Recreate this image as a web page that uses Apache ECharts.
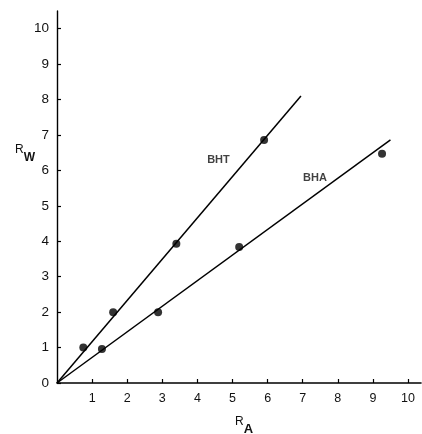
<!DOCTYPE html>
<html><head><meta charset="utf-8">
<script src="https://cdn.jsdelivr.net/npm/echarts@6/dist/echarts.min.js"></script>
<style>html,body{margin:0;padding:0;background:#fff}#c{width:422px;height:434px}</style>
</head><body><div id="c"></div>
<script>
// Data
const xTicks = [1,2,3,4,5,6,7,8,9,10];
const yTicks = [0,1,2,3,4,5,6,7,8,9,10];
const bhtPoints = [[0.75,1.0],[1.6,2.0],[3.4,3.93],[5.9,6.86]];
const bhaPoints = [[1.28,0.96],[2.88,2.0],[5.19,3.84],[9.26,6.47]];
const bhtLine = [[0,0],[6.95,8.1]];
const bhaLine = [[0,0],[9.5,6.86]];
const bhtLabel = [4.6,6.3];
const bhaLabel = [7.35,5.8];

const font = 'Liberation Sans, Arial, sans-serif';
const chart = echarts.init(document.getElementById('c'));
chart.setOption({
  animation:false,
  backgroundColor:'#fff',
  grid:{left:57,right:1,top:11,bottom:51,containLabel:false},
  xAxis:{type:'value',min:0,max:10.37,
    axisLine:{lineStyle:{color:'#000',width:1.6}},
    splitLine:{show:false},
    axisTick:{inside:true,length:4,customValues:xTicks,lineStyle:{color:'#000',width:1.2}},
    axisLabel:{customValues:xTicks,color:'#111',fontFamily:font,fontSize:12.5,margin:9}
  },
  yAxis:{type:'value',min:0,max:10.5,
    axisLine:{lineStyle:{color:'#000',width:1.4}},
    splitLine:{show:false},
    axisTick:{inside:true,length:4,customValues:yTicks,lineStyle:{color:'#000',width:1.2}},
    axisLabel:{customValues:yTicks,color:'#111',fontFamily:font,fontSize:13.5,margin:8}
  },
  graphic:[
    {type:'text',left:15,top:144,style:{text:'{r|R}{s|W}',rich:{r:{fontSize:12,fontFamily:font,fill:'#111',padding:[0,0,8,0]},s:{fontSize:12,fontFamily:font,fill:'#111',fontWeight:'bold',padding:[8,0,0,0]}}}},
    {type:'text',left:235,top:416,style:{text:'{r|R}{s|A}',rich:{r:{fontSize:12,fontFamily:font,fill:'#111',padding:[0,0,7,0]},s:{fontSize:13,fontFamily:font,fill:'#111',fontWeight:'bold',padding:[7,0,0,0]}}}}
  ],
  series:[
    {type:'line',data:bhtLine,symbol:'none',lineStyle:{color:'#000',width:1.5},silent:true},
    {type:'line',data:bhaLine,symbol:'none',lineStyle:{color:'#000',width:1.5},silent:true},
    {type:'scatter',data:bhtPoints,symbolSize:8,itemStyle:{color:'#000'}},
    {type:'scatter',data:bhaPoints,symbolSize:8,itemStyle:{color:'#000'}},
    {type:'scatter',data:[bhtLabel],symbolSize:0,label:{show:true,position:'inside',formatter:'BHT',color:'#111',fontFamily:font,fontSize:11,fontWeight:'bold'}},
    {type:'scatter',data:[bhaLabel],symbolSize:0,label:{show:true,position:'inside',formatter:'BHA',color:'#111',fontFamily:font,fontSize:11,fontWeight:'bold'}}
  ]
});
</script></body></html>
